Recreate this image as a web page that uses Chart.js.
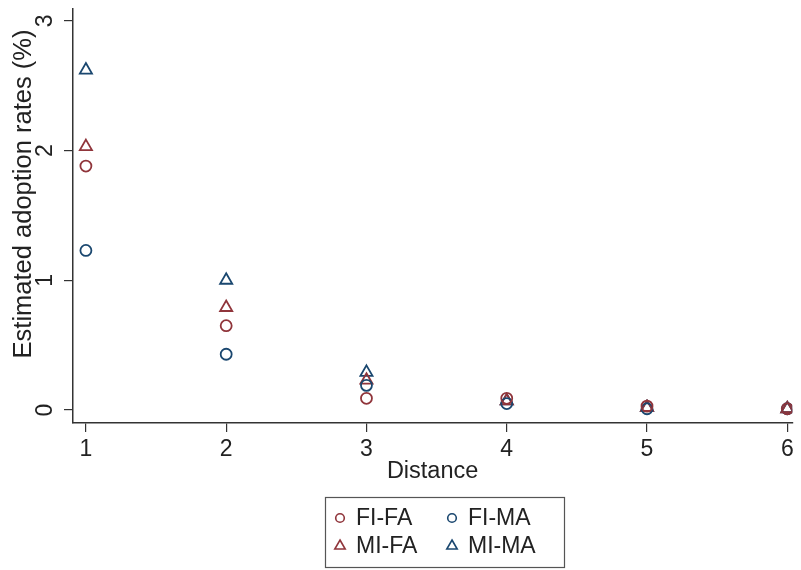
<!DOCTYPE html>
<html>
<head>
<meta charset="utf-8">
<script src="https://cdn.jsdelivr.net/npm/chart.js@4.4.1/dist/chart.umd.min.js"></script>
<style>
  body { margin: 0; background: #fff; }
  #wrap { width: 801px; height: 570px; }
</style>
</head>
<body>
<div id="wrap"><canvas id="rateChart" width="801" height="570"></canvas></div>
<script>
// Estimated adoption rates (%) by distance
const distance = [1, 2, 3, 4, 5, 6];
const fiFa = [1.88, 0.65, 0.09, 0.09, 0.03, 0.01];
const fiMa = [1.23, 0.43, 0.19, 0.05, 0.01, 0.01];
const miFa = [2.03, 0.79, 0.23, 0.07, 0.02, 0.01];
const miMa = [2.62, 1.00, 0.29, 0.07, 0.02, 0.01];
const yTicks = [0, 1, 2, 3];

const RED = '#90353b';   // stata maroon
const BLUE = '#1a476f';  // stata navy
const FONT = "'Liberation Sans', Arial, sans-serif";

function toPoints(vals) {
    return distance.map((d, i) => ({ x: d, y: vals[i] }));
}

function series(label, vals, color, style) {
    return {
        label: label,
        data: toPoints(vals),
        pointStyle: style,
        pointRadius: style === 'triangle' ? 7 : 5.5,
        pointBorderWidth: 1.8,
        borderColor: color,
        backgroundColor: 'rgba(255,255,255,0)',
        showLine: false
    };
}

// y tick labels (rotated), y title and the boxed 2x2 legend
const extras = {
    id: 'extras',
    afterDraw(chart) {
        const ctx = chart.ctx;
        const ys = chart.scales.y;
        ctx.save();
        ctx.fillStyle = '#222';
        ctx.textAlign = 'center';
        ctx.textBaseline = 'middle';

        ctx.font = '23px ' + FONT;
        yTicks.forEach(v => {
            ctx.save();
            ctx.translate(46, ys.getPixelForValue(v));
            ctx.rotate(-Math.PI / 2);
            ctx.fillText(String(v), 0, 0);
            ctx.restore();
        });

        ctx.save();
        ctx.font = '25.5px ' + FONT;
        ctx.translate(24, 194);
        ctx.rotate(-Math.PI / 2);
        ctx.fillText('Estimated adoption rates (%)', 0, 0);
        ctx.restore();

        // legend box
        ctx.strokeStyle = '#555';
        ctx.lineWidth = 1.2;
        ctx.strokeRect(325.5, 497.5, 239, 70);

        const cols = [340, 452];
        const rows = [518, 546];
        ctx.font = '23px ' + FONT;
        ctx.textAlign = 'left';
        chart.data.datasets.forEach((ds, i) => {
            const cx = cols[i % 2];
            const cy = rows[Math.floor(i / 2)];
            ctx.strokeStyle = ds.borderColor;
            ctx.lineWidth = 1.6;
            ctx.beginPath();
            if (ds.pointStyle === 'circle') {
                ctx.arc(cx, cy, 4.3, 0, Math.PI * 2);
            } else {
                const r = 6;
                ctx.moveTo(cx, cy - r);
                ctx.lineTo(cx + r * 0.866, cy + r * 0.5);
                ctx.lineTo(cx - r * 0.866, cy + r * 0.5);
                ctx.closePath();
            }
            ctx.stroke();
            ctx.fillStyle = '#222';
            ctx.fillText(ds.label, cx + 16, cy + 1);
        });
        ctx.restore();
    }
};

const ctx = document.getElementById('rateChart').getContext('2d');
new Chart(ctx, {
    type: 'scatter',
    data: {
        datasets: [
            series('FI-FA', fiFa, RED, 'circle'),
            series('FI-MA', fiMa, BLUE, 'circle'),
            series('MI-FA', miFa, RED, 'triangle'),
            series('MI-MA', miMa, BLUE, 'triangle')
        ]
    },
    options: {
        responsive: false,
        animation: false,
        layout: { padding: { left: 0, right: 1, top: 8, bottom: 84 } },
        plugins: {
            legend: { display: false },
            tooltip: { enabled: false }
        },
        scales: {
            x: {
                type: 'linear',
                min: 0.908,
                max: 6.035,
                afterBuildTicks: s => { s.ticks = distance.map(v => ({ value: v })); },
                afterFit: s => { s.height = 63; s.paddingLeft = 0; s.paddingRight = 0; },
                grid: { drawOnChartArea: false, tickLength: 9, color: '#333', lineWidth: 1.2 },
                border: { color: '#333', width: 1.5 },
                ticks: { color: '#222', font: { family: FONT, size: 23 }, padding: 4, maxRotation: 0 },
                title: { display: true, text: 'Distance', color: '#222', font: { family: FONT, size: 23.5 }, padding: 0 }
            },
            y: {
                type: 'linear',
                min: -0.1,
                max: 3.092,
                afterBuildTicks: s => { s.ticks = yTicks.map(v => ({ value: v })); },
                afterFit: s => { s.width = 73; },
                grid: { drawOnChartArea: false, tickLength: 9, color: '#333', lineWidth: 1.2 },
                border: { color: '#333', width: 1.5 },
                ticks: { display: false }
            }
        }
    },
    plugins: [extras]
});
</script>
</body>
</html>
